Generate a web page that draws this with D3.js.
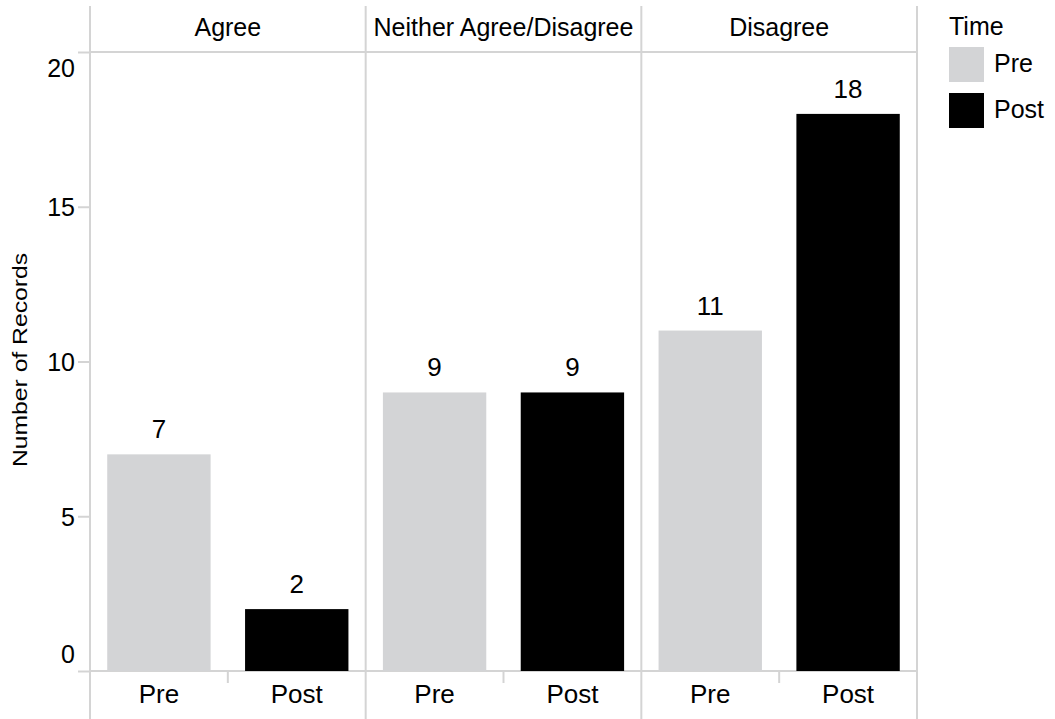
<!DOCTYPE html>
<html>
<head>
<meta charset="utf-8">
<script src="https://cdn.jsdelivr.net/npm/d3@7"></script>
<style>
  html, body { margin: 0; padding: 0; background: #ffffff; }
  svg { display: block; font-family: "Liberation Sans", Arial, sans-serif; }
</style>
</head>
<body>
<svg id="chart" width="1055" height="719"></svg>
<script>
// Response categories shown as column panels
const panels = ["Agree", "Neither Agree/Disagree", "Disagree"];
// Survey time points within each panel
const times = ["Pre", "Post"];
// Record counts per panel
const preValues = [7, 9, 11];
const postValues = [2, 9, 18];
// Y axis tick values
const yTicks = [0, 5, 10, 15, 20];

const colors = { Pre: "#d3d4d6", Post: "#000000" };
const lineColor = "#d4d4d4";
const font = 25;

const svg = d3.select("#chart");

const plotLeft = 90, plotRight = 917, plotTop = 52, plotBottom = 671;

const x = d3.scaleBand().domain(panels).range([plotLeft, plotRight]).padding(0);
const inner = d3.scaleBand().domain(times).range([0, x.bandwidth()])
  .paddingInner(0.25).paddingOuter(0.125);
const y = d3.scaleLinear().domain([0, 20]).range([plotBottom, plotTop]);

const rows = panels.map((p, i) => ({ panel: p, Pre: preValues[i], Post: postValues[i] }));

// Frame: vertical panel separators
const frame = svg.append("g").attr("stroke", lineColor).attr("stroke-width", 2);
const sepX = panels.map(p => x(p)).concat([plotRight]);
frame.selectAll("line.v").data(sepX).join("line")
  .attr("class", "v")
  .attr("x1", d => d).attr("x2", d => d)
  .attr("y1", 6).attr("y2", 719);
// Top edge and zero baseline
frame.selectAll("line.h").data([20, 0]).join("line")
  .attr("class", "h")
  .attr("x1", plotLeft).attr("x2", plotRight)
  .attr("y1", d => y(d)).attr("y2", d => y(d));
// Small separators between Pre and Post under the baseline
frame.selectAll("line.s").data(panels).join("line")
  .attr("class", "s")
  .attr("x1", p => x(p) + x.bandwidth() / 2).attr("x2", p => x(p) + x.bandwidth() / 2)
  .attr("y1", plotBottom).attr("y2", plotBottom + 12);

// Y axis
const yAxis = svg.append("g")
  .attr("transform", `translate(${plotLeft},0)`)
  .call(d3.axisLeft(y).tickValues(yTicks).tickSize(12).tickPadding(3).tickFormat(d3.format("d")));
yAxis.select(".domain").remove();
yAxis.selectAll(".tick line").attr("stroke", lineColor).attr("stroke-width", 2);
yAxis.selectAll(".tick text")
  .attr("font-size", font)
  .attr("font-family", "Liberation Sans, Arial, sans-serif")
  .attr("fill", "#000")
  .attr("dy", d => d === 20 ? "0.99em" : d === 0 ? "-0.36em" : "0.36em");

// Y axis title
svg.append("text")
  .attr("transform", "translate(27,360) rotate(-90)")
  .attr("text-anchor", "middle")
  .attr("font-size", 20)
  .attr("textLength", 214)
  .attr("lengthAdjust", "spacingAndGlyphs")
  .text("Number of Records");

// Panel headers
svg.append("g").selectAll("text").data(panels).join("text")
  .attr("x", p => x(p) + x.bandwidth() / 2)
  .attr("y", 36)
  .attr("text-anchor", "middle")
  .attr("font-size", 25)
  .text(p => p);

// Panels with bars, value labels and time labels
const panelG = svg.append("g").selectAll("g").data(rows).join("g")
  .attr("transform", d => `translate(${x(d.panel)},0)`);

panelG.selectAll("rect").data(d => times.map(t => ({ t, v: d[t] }))).join("rect")
  .attr("x", d => inner(d.t))
  .attr("width", inner.bandwidth())
  .attr("y", d => y(d.v))
  .attr("height", d => y(0) - y(d.v))
  .attr("fill", d => colors[d.t]);

panelG.selectAll("text.val").data(d => times.map(t => ({ t, v: d[t] }))).join("text")
  .attr("class", "val")
  .attr("x", d => inner(d.t) + inner.bandwidth() / 2)
  .attr("y", d => y(d.v) - 16)
  .attr("text-anchor", "middle")
  .attr("font-size", 26)
  .text(d => d.v);

panelG.each(function () {
  const g = d3.select(this).append("g").attr("transform", `translate(0,${plotBottom})`)
    .call(d3.axisBottom(inner).tickSize(0).tickPadding(0));
  g.select(".domain").remove();
  g.selectAll(".tick text")
    .attr("font-size", 26)
    .attr("font-family", "Liberation Sans, Arial, sans-serif")
    .attr("fill", "#000")
    .attr("y", 32)
    .attr("dy", 0);
});

// Legend
const legend = svg.append("g").attr("transform", "translate(949,0)");
legend.append("text").attr("x", 0).attr("y", 35).attr("font-size", font).text("Time");
const items = legend.selectAll("g").data(times).join("g")
  .attr("transform", (d, i) => `translate(0,${47 + i * 46})`);
items.append("rect").attr("width", 35).attr("height", 35).attr("fill", d => colors[d]);
items.append("text").attr("x", 45).attr("y", 25).attr("font-size", font).text(d => d);
</script>
</body>
</html>
